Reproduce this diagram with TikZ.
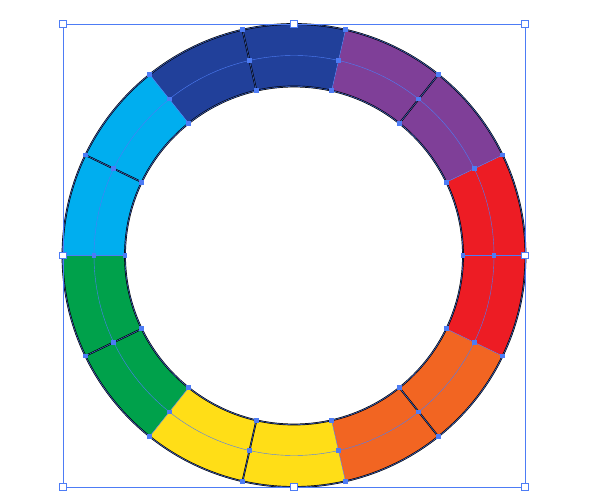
\documentclass[tikz,border=0pt]{standalone}
\usepackage{xcolor}
\usepackage{tikz}
\definecolor{wRed}{HTML}{ED1C24}
\definecolor{wPurple}{HTML}{7F3F98}
\definecolor{wBlue}{HTML}{21409A}
\definecolor{wCyan}{HTML}{00AEEF}
\definecolor{wGreen}{HTML}{00A14B}
\definecolor{wYellow}{HTML}{FFDE17}
\definecolor{wOrange}{HTML}{F26522}
\definecolor{selBlue}{HTML}{4D7CF5}
\tikzset{
  selline/.style={draw=selBlue, line width=0.35pt},
  anchorpt/.style={fill=selBlue, minimum size=4pt, inner sep=0pt},
  handle/.style={draw=selBlue, fill=white, line width=0.5pt, minimum size=5.5pt, inner sep=0pt}}

\begin{document}
\begin{tikzpicture}[x=0.03cm, y=0.03cm]
  \useasboundingbox (0,0) rectangle (600,500);
  \begin{scope}[shift={(294,244.5)}]
    % 14 half segments, 7 colours
    \foreach \k/\col [evaluate=\k as \a using \k*360/14,
        evaluate=\k as \b using (\k+1)*360/14] in
        {0/wRed,1/wPurple,2/wPurple,3/wBlue,4/wBlue,5/wCyan,6/wCyan,
         7/wGreen,8/wGreen,9/wYellow,10/wYellow,11/wOrange,12/wOrange,13/wRed}
      \fill[\col] (\a:231.5) arc[start angle=\a, end angle=\b, radius=231.5]
        -- (\b:169) arc[start angle=\b, end angle=\a, radius=169] -- cycle;
    % black outline and splits
    \draw[line width=1.5pt] (0,0) circle[radius=231.5];
    \draw[line width=1.5pt] (0,0) circle[radius=169];
    \foreach \k in {0,2,...,12}
      \draw[line width=1.5pt] ({\k*360/14}:169) -- ({\k*360/14}:231.5);
    % selection overlay
    \draw[selline] (0,0) circle[radius=231.5];
    \draw[selline] (0,0) circle[radius=200];
    \draw[selline] (0,0) circle[radius=169];
    \foreach \k [evaluate=\k as \a using \k*360/14] in {0,...,13} {
      \draw[selline] (\a:169) -- (\a:231.5);
      \node[anchorpt] (in\k) at (\a:169) {};
      \node[anchorpt] (mid\k) at (\a:200) {};
      \node[anchorpt] (out\k) at (\a:231.5) {};
    }
  \end{scope}
  % bounding box of the selection
  \draw[selline] (63,13) rectangle (525,476);
  \foreach \x/\y/\n in {63/13/sw,294/13/s,525/13/se,63/244.5/w,525/244.5/e,63/476/nw,294/476/n,525/476/ne}
    \node[handle] (h\n) at (\x,\y) {};
\end{tikzpicture}
\end{document}
